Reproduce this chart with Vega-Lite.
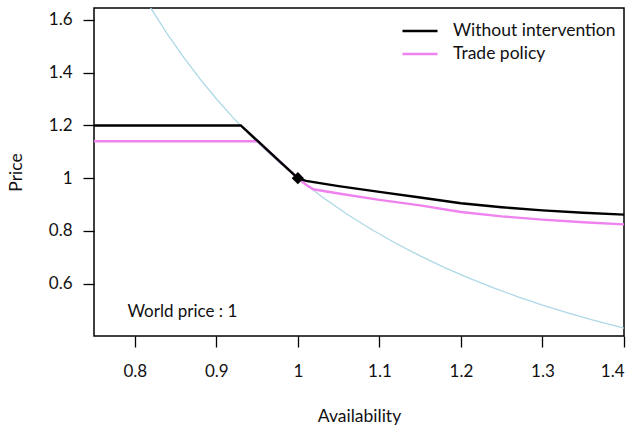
{
  "$schema": "https://vega.github.io/schema/vega-lite/v6.json",
  "width": 530,
  "height": 328,
  "autosize": {"type": "none"},
  "padding": {"left": 94, "top": 8, "right": 16, "bottom": 89},
  "background": "white",
  "config": {
    "view": {"stroke": "black", "strokeWidth": 1.5},
    "font": "Lato",
    "axis": {
      "domain": false,
      "grid": false,
      "tickColor": "black",
      "tickWidth": 1.3,
      "tickSize": 11,
      "labelFont": "Lato",
      "labelFontSize": 17,
      "labelColor": "#111",
      "titleFont": "Lato",
      "titleFontSize": 17.5,
      "titleFontWeight": "normal",
      "titleColor": "#111"
    }
  },
  "datasets": {
    "lines": [
      {"series": "Trade policy", "x": 0.75, "y": 1.14},
      {"series": "Trade policy", "x": 0.951, "y": 1.14},
      {"series": "Trade policy", "x": 0.975, "y": 1.071},
      {"series": "Trade policy", "x": 1.0, "y": 1.0},
      {"series": "Trade policy", "x": 1.01, "y": 0.975},
      {"series": "Trade policy", "x": 1.019, "y": 0.958},
      {"series": "Trade policy", "x": 1.05, "y": 0.942},
      {"series": "Trade policy", "x": 1.1, "y": 0.918},
      {"series": "Trade policy", "x": 1.15, "y": 0.897},
      {"series": "Trade policy", "x": 1.2, "y": 0.872},
      {"series": "Trade policy", "x": 1.25, "y": 0.855},
      {"series": "Trade policy", "x": 1.3, "y": 0.843},
      {"series": "Trade policy", "x": 1.35, "y": 0.833},
      {"series": "Trade policy", "x": 1.4, "y": 0.825},
      {"series": "Without intervention", "x": 0.75, "y": 1.2},
      {"series": "Without intervention", "x": 0.93, "y": 1.2},
      {"series": "Without intervention", "x": 0.95, "y": 1.143},
      {"series": "Without intervention", "x": 0.975, "y": 1.071},
      {"series": "Without intervention", "x": 1.0, "y": 1.0},
      {"series": "Without intervention", "x": 1.01, "y": 0.99},
      {"series": "Without intervention", "x": 1.05, "y": 0.97},
      {"series": "Without intervention", "x": 1.1, "y": 0.948},
      {"series": "Without intervention", "x": 1.15, "y": 0.927},
      {"series": "Without intervention", "x": 1.2, "y": 0.905},
      {"series": "Without intervention", "x": 1.25, "y": 0.89},
      {"series": "Without intervention", "x": 1.3, "y": 0.878},
      {"series": "Without intervention", "x": 1.35, "y": 0.869},
      {"series": "Without intervention", "x": 1.4, "y": 0.862}
    ],
    "demand": [
      {"x": 0.815, "y": 1.6677},
      {"x": 0.84, "y": 1.5463},
      {"x": 0.86, "y": 1.458},
      {"x": 0.88, "y": 1.3766},
      {"x": 0.9, "y": 1.3013},
      {"x": 0.92, "y": 1.2318},
      {"x": 0.94, "y": 1.1673},
      {"x": 0.96, "y": 1.1074},
      {"x": 0.98, "y": 1.0518},
      {"x": 1.0, "y": 1.0},
      {"x": 1.03, "y": 0.9288},
      {"x": 1.06, "y": 0.8644},
      {"x": 1.09, "y": 0.8062},
      {"x": 1.12, "y": 0.7533},
      {"x": 1.15, "y": 0.7051},
      {"x": 1.18, "y": 0.6611},
      {"x": 1.21, "y": 0.6209},
      {"x": 1.24, "y": 0.5841},
      {"x": 1.27, "y": 0.5502},
      {"x": 1.3, "y": 0.519},
      {"x": 1.33, "y": 0.4902},
      {"x": 1.36, "y": 0.4636},
      {"x": 1.4, "y": 0.4312}
    ],
    "point": [{"x": 1.0, "y": 1.0}],
    "note": [{"x": 0.791, "y": 0.491, "label": "World price : 1"}]
  },
  "encoding": {
    "x": {
      "field": "x", "type": "quantitative",
      "scale": {"domain": [0.75, 1.4], "nice": false, "zero": false},
      "axis": {
        "values": [0.8, 0.9, 1, 1.1, 1.2, 1.3, 1.4],
        "format": ".1~f",
        "title": "Availability",
        "labelBaseline": "middle",
        "labelPadding": 24,
        "titleX": 265,
        "titleY": 80,
        "titleBaseline": "middle",
        "titleAnchor": null
      }
    },
    "y": {
      "field": "y", "type": "quantitative",
      "scale": {"domain": [0.4015, 1.6455], "nice": false, "zero": false},
      "axis": {
        "values": [0.6, 0.8, 1, 1.2, 1.4, 1.6],
        "format": ".1~f",
        "title": "Price",
        "labelAlign": "right",
        "labelBaseline": "middle",
        "labelPadding": 11,
        "titleX": -78,
        "titleY": 164,
        "titleAngle": 270,
        "titleAlign": "center",
        "titleBaseline": "middle",
        "titleAnchor": null
      }
    }
  },
  "layer": [
    {
      "data": {"name": "demand"},
      "mark": {"type": "line", "color": "#ADD8E6", "strokeWidth": 1.3, "clip": true},
      "encoding": {}
    },
    {
      "data": {"name": "lines"},
      "mark": {"type": "line", "strokeWidth": 2.4, "clip": true},
      "encoding": {
        "color": {
          "field": "series", "type": "nominal",
          "scale": {"domain": ["Without intervention", "Trade policy"], "range": ["#000000", "#EE82EE"]},
          "legend": {
            "orient": "none",
            "legendX": 307,
            "legendY": 12,
            "title": null,
            "symbolType": "stroke",
            "symbolSize": 1225,
            "symbolStrokeWidth": 2.5,
            "labelFont": "Lato",
            "labelFontSize": 17.5,
            "labelColor": "#111",
            "labelLimit": 400,
            "clipHeight": 22,
            "rowPadding": 1,
            "labelOffset": 14,
            "padding": 0
          }
        }
      }
    },
    {
      "data": {"name": "point"},
      "mark": {"type": "point", "shape": "diamond", "filled": true, "color": "black", "size": 150, "opacity": 1},
      "encoding": {}
    },
    {
      "data": {"name": "note"},
      "mark": {"type": "text", "align": "left", "baseline": "middle", "fontSize": 17, "font": "Lato", "color": "#111"},
      "encoding": {"text": {"field": "label"}}
    }
  ]
}
